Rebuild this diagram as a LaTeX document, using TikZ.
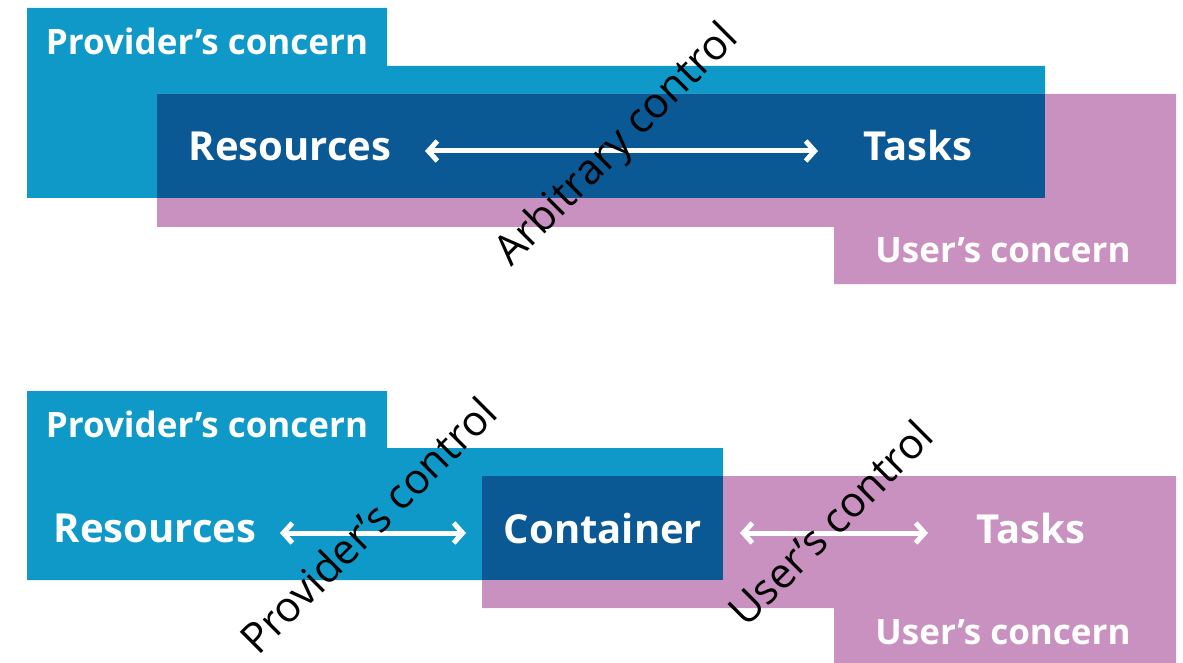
\documentclass[tikz,border=0pt]{standalone}
\usepackage{fontspec}
\setmainfont{Open Sans}
\usetikzlibrary{arrows.meta}
\definecolor{provblue}{RGB}{14,153,200}
\definecolor{sharedblue}{RGB}{10,88,148}
\definecolor{userpink}{RGB}{200,145,192}
\tikzset{
  concern/.style = {text=white, inner sep=0pt, font=\fontsize{35}{40}\selectfont\bfseries},
  item/.style = {text=white, inner sep=0pt, font=\fontsize{40}{46}\selectfont\bfseries},
  ctrl/.style = {text=black, inner sep=0pt, rotate=45, font=\fontsize{42}{46}\selectfont},
  link/.style = {white, line width=5pt, {Straight Barb[length=9pt,width=20pt]}-{Straight Barb[length=9pt,width=20pt]}}
}
\begin{document}
\begin{tikzpicture}[x=1pt, y=-1pt]
    \useasboundingbox (0,0) rectangle (1183,663);
    % top: arbitrary control
    \fill[provblue] (27,8) -- (387,8) -- (387,66) -- (1045,66) -- (1045,198) -- (27,198) -- cycle;
    \fill[userpink] (157,94) -- (1176,94) -- (1176,284) -- (834,284) -- (834,227) -- (157,227) -- cycle;
    \fill[sharedblue] (157,94) rectangle (1045,198);
    \node[concern] (prov1) at (207,41) {Provider’s concern};
    \node[concern] (user1) at (1003,250) {User’s concern};
    \node[item] (res1) at (290,146) {Resources};
    \node[item] (task1) at (918,146) {Tasks};
    \coordinate (a1l) at (425,151);
    \coordinate (a1r) at (818,151);
    \draw[link] (a1l) -- (a1r);
    \node[ctrl] (arb) at (618,146) {Arbitrary control};
    % bottom: container
    \fill[provblue] (27,391) -- (387,391) -- (387,448) -- (723,448) -- (723,580) -- (27,580) -- cycle;
    \fill[userpink] (482,476) -- (1176,476) -- (1176,663) -- (834,663) -- (834,608) -- (482,608) -- cycle;
    \fill[sharedblue] (482,476) rectangle (723,580);
    \node[concern] (prov2) at (207,424) {Provider’s concern};
    \node[concern] (user2) at (1003,632) {User’s concern};
    \node[item] (res2) at (155,528) {Resources};
    \node[item] (cont) at (603,528) {Container};
    \node[item] (task2) at (1031,528) {Tasks};
    \coordinate (a2l) at (280,533);
    \coordinate (a2r) at (466,533);
    \coordinate (a3l) at (740,533);
    \coordinate (a3r) at (928,533);
    \draw[link] (a2l) -- (a2r);
    \draw[link] (a3l) -- (a3r);
    \node[ctrl] (provctrl) at (368,525) {Provider’s control};
    \node[ctrl] (userctrl) at (830,523) {User’s control};
\end{tikzpicture}
\end{document}
